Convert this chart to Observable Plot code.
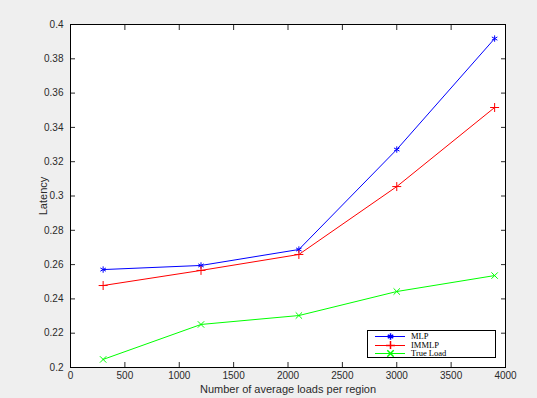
<!DOCTYPE html>
<html><head><meta charset="utf-8">
<script src="https://cdn.jsdelivr.net/npm/d3@7"></script>
<script src="https://cdn.jsdelivr.net/npm/@observablehq/plot@0.6"></script>
<style>
html,body{margin:0;padding:0;background:#efefef;}
#wrap{position:relative;width:537px;height:398px;overflow:hidden;}
#wrap g[aria-label="x-axis label"], #wrap g[aria-label="y-axis label"]{font-size:11px;}
#legend{position:absolute;left:367px;top:330px;width:127px;height:26px;border:1px solid #000;background:#fff;font-family:"Liberation Serif",serif;font-size:8.5px;}
#legend .row{position:absolute;left:0;height:8px;line-height:8px;}
#legend svg{position:absolute;left:7px;top:0;}
#legend span{position:absolute;left:43px;top:0;white-space:nowrap;}
</style></head>
<body><div id="wrap"></div>
<script>
const loads = [300, 1200, 2100, 3000, 3900];
const mlp = [0.2571, 0.2595, 0.2688, 0.3271, 0.3918];
const immlp = [0.2478, 0.2566, 0.2659, 0.3055, 0.3516];
const trueLoad = [0.2047, 0.2251, 0.2303, 0.2443, 0.2536];
const seriesNames = ["MLP", "IMMLP", "True Load"];
const seriesColors = ["#0000ff", "#ff0000", "#00ff00"];
const seriesSymbols = ["asterisk", "plus", "times"];
const xTicks = [0, 500, 1000, 1500, 2000, 2500, 3000, 3500, 4000];
const yTicks = [0.2, 0.22, 0.24, 0.26, 0.28, 0.3, 0.32, 0.34, 0.36, 0.38, 0.4];

const allSeries = [mlp, immlp, trueLoad];
const data = [];
allSeries.forEach((vals, i) => vals.forEach((v, j) => data.push({x: loads[j], y: v, s: seriesNames[i]})));

const marks = [Plot.frame({fill: "white"})];
seriesNames.forEach((name, i) => {
  const d = data.filter(r => r.s === name);
  marks.push(Plot.line(d, {x: "x", y: "y", stroke: seriesColors[i], strokeWidth: 1}));
  marks.push(Plot.dot(d, {x: "x", y: "y", stroke: seriesColors[i], symbol: seriesSymbols[i], r: 3, strokeWidth: 1}));
});
marks.push(
  Plot.axisX({anchor: "bottom", ticks: xTicks, tickSize: -5, tickPadding: 9, tickFormat: d3.format("d"), label: "Number of average loads per region", labelAnchor: "center", labelOffset: 25, labelArrow: "none"}),
  Plot.axisX({anchor: "top", ticks: xTicks, tickSize: -5, tickFormat: () => "", label: null}),
  Plot.axisY({anchor: "left", ticks: yTicks, tickSize: -5, tickPadding: 12, tickFormat: d => String(+d.toFixed(2)), label: "Latency", labelAnchor: "center", labelOffset: 31, labelArrow: "none"}),
  Plot.axisY({anchor: "right", ticks: yTicks, tickSize: -5, tickFormat: () => "", label: null}),
  Plot.frame({stroke: "#000", strokeWidth: 1})
);

const chart = Plot.plot({
  width: 537, height: 398,
  marginLeft: 70, marginRight: 32, marginTop: 24, marginBottom: 31,
  x: {domain: [0, 4000]},
  y: {domain: [0.2, 0.4]},
  style: {background: "#efefef", fontFamily: "'Liberation Sans', Arial, sans-serif", fontSize: "10px", color: "#2a2a2a"},
  marks
});
const wrap = document.getElementById("wrap");
wrap.appendChild(chart);

const legend = document.createElement("div");
legend.id = "legend";
seriesNames.forEach((name, i) => {
  const row = document.createElement("div");
  row.className = "row";
  row.style.top = (1 + i * 8.5) + "px";
  row.style.width = "127px";
  const sample = Plot.plot({
    width: 30, height: 8, margin: 0, axis: null,
    x: {domain: [0, 1]}, y: {domain: [0, 1]},
    style: {background: "transparent"},
    marks: [
      Plot.ruleY([0.5], {x1: 0, x2: 1, stroke: seriesColors[i]}),
      Plot.dot([{x: 0.5, y: 0.5}], {x: "x", y: "y", stroke: seriesColors[i], symbol: seriesSymbols[i], r: 3})
    ]
  });
  row.appendChild(sample);
  const label = document.createElement("span");
  label.textContent = name;
  row.appendChild(label);
  legend.appendChild(row);
});
wrap.appendChild(legend);
</script></body></html>
